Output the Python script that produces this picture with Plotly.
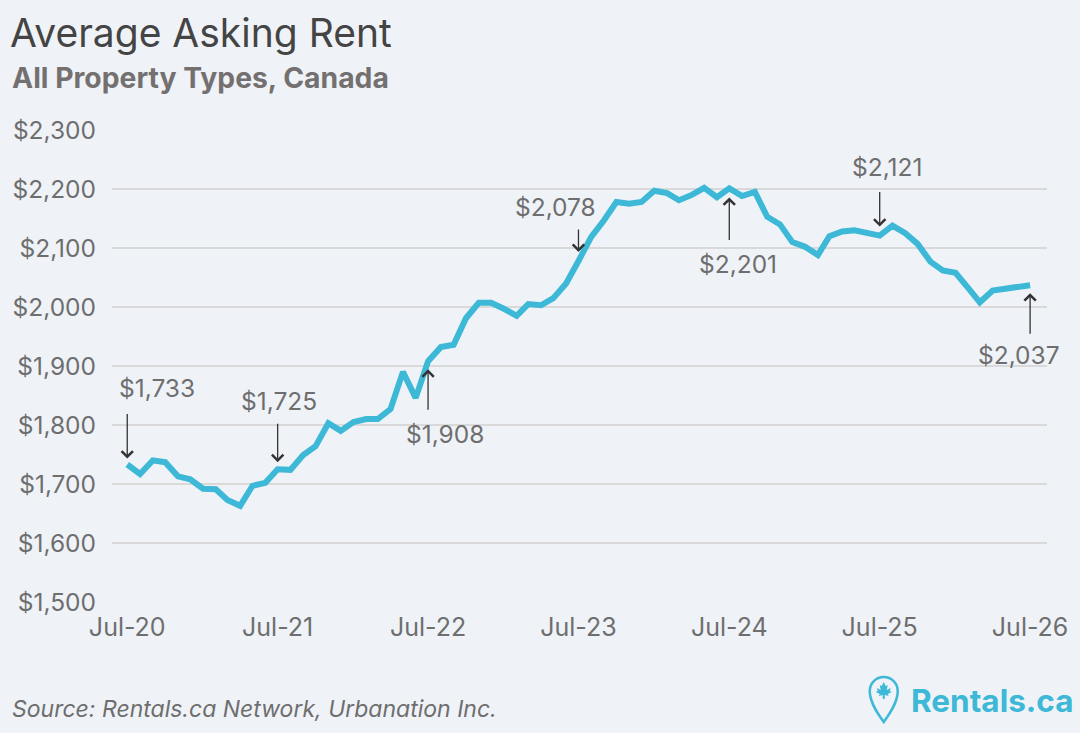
import pandas as pd
import plotly.graph_objects as go

# monthly average asking rent, Jul 2020 .. Jul 2026
months = pd.date_range("2020-07-01", "2026-07-01", freq="MS")
rent = [1733, 1717, 1740, 1737, 1713, 1708, 1692, 1691, 1673, 1663, 1697, 1702,
        1725, 1724, 1749, 1764, 1803, 1790, 1805, 1810, 1810, 1827, 1890, 1846,
        1908, 1932, 1936, 1981, 2007, 2007, 1997, 1985, 2005, 2003, 2015, 2040,
        2078, 2119, 2147, 2178, 2175, 2178, 2197, 2193, 2181, 2190, 2202, 2186,
        2201, 2188, 2195, 2153, 2140, 2110, 2102, 2088, 2120, 2128, 2130, 2126,
        2121, 2138, 2125, 2107, 2077, 2062, 2058, 2032, 2008, 2028, 2031, 2034,
        2037]

# the July points that get a callout
callout_dates = ["2020-07-01", "2021-07-01", "2022-07-01", "2023-07-01",
                 "2024-07-01", "2025-07-01", "2026-07-01"]
callout_vals = [1733, 1725, 1908, 2078, 2201, 2121, 2037]

tick_dates = pd.date_range("2020-07-01", "2026-07-01", freq="12MS")

W, H = 1080, 733
L, R, T, B = 105, 30, 130, 131
BG = "#eff3f8"
CYAN = "#3db8d6"
GREY = "#6e6e6e"
FONT = "Inter"


def px_x(p):  # pixel -> paper x
    return (p - L) / (W - L - R)


def px_y(p):  # pixel -> paper y
    return (H - B - p) / (H - T - B)


fig = go.Figure()
fig.add_trace(go.Scatter(x=months, y=rent, mode="lines",
                         line=dict(color=CYAN, width=6), hoverinfo="skip"))

# (arrow tail dy, standoff, label xshift, label yshift)
layout_spec = [(-52, 6, 30, 77), (-47, 7, 1, 68), (50, 8, 17, -73),
               (-33, 9, -23, 54), (53, 9, 9, -76), (-45, 9, 7, 69),
               (50, 8, -11, -70)]

for d, v, (ay, so, xs, ys) in zip(callout_dates, callout_vals, layout_spec):
    fig.add_annotation(x=d, y=v, text="", showarrow=True, ax=0, ay=ay,
                       axref="pixel", ayref="pixel", arrowhead=4,
                       arrowsize=1.7, arrowwidth=1.3, arrowcolor="#333333",
                       standoff=so)
    fig.add_annotation(x=d, y=v, text=f"${v:,}", showarrow=False,
                       xshift=xs, yshift=ys,
                       font=dict(family=FONT, size=24.5, color=GREY))

fig.add_annotation(xref="paper", yref="paper", x=px_x(2), y=px_y(78),
                   xanchor="left", yanchor="middle", showarrow=False,
                   text="<b>All Property Types, Canada</b>",
                   font=dict(family=FONT, size=28.3, color="#747070"))
fig.add_annotation(xref="paper", yref="paper", x=px_x(2), y=px_y(709),
                   xanchor="left", yanchor="middle", showarrow=False,
                   text="Source: Rentals.ca Network, Urbanation Inc.",
                   font=dict(family=FONT, size=23, color=GREY, style="italic"))
fig.add_annotation(xref="paper", yref="paper", x=px_x(911), y=px_y(700),
                   xanchor="left", yanchor="middle", showarrow=False,
                   text="<b>Rentals.ca</b>",
                   font=dict(family=FONT, size=31.5, color=CYAN))

# logo pin + leaf
pin = ("M 0,-31 C -5,-24 -14,-12 -14,0 C -14,7.7 -7.7,14 0,14 "
       "C 7.7,14 14,7.7 14,0 C 14,-12 5,-24 0,-31 Z")
leaf = ("M 0,9 L 2,5 L 4,6 L 3,1 L 7,3 L 6,0 L 8,-1 L 4,-3 L 5,-5 L 1,-4 "
        "L 1,-8 L -1,-8 L -1,-4 L -5,-5 L -4,-3 L -8,-1 L -6,0 L -7,3 "
        "L -3,1 L -4,6 L -2,5 Z")
fig.add_shape(type="path", xref="paper", yref="paper", xsizemode="pixel",
              ysizemode="pixel", xanchor=px_x(885), yanchor=px_y(691),
              path=pin, line=dict(color=CYAN, width=2.5),
              fillcolor="rgba(0,0,0,0)")
fig.add_shape(type="path", xref="paper", yref="paper", xsizemode="pixel",
              ysizemode="pixel", xanchor=px_x(885), yanchor=px_y(691),
              path=leaf, line=dict(width=0), fillcolor=CYAN)

fig.update_layout(
    width=W, height=H,
    margin=dict(l=L, r=R, t=T, b=B),
    paper_bgcolor=BG, plot_bgcolor=BG,
    showlegend=False,
    title=dict(text="Average Asking Rent", x=10 / W, xanchor="left",
               y=1 - 33 / H, yanchor="middle",
               font=dict(family=FONT, size=39, color="#444444")),
    xaxis=dict(type="date", range=["2020-05-25", "2026-08-11"],
               tickvals=tick_dates, tickformat="%b-%y", showgrid=False,
               zeroline=False, showline=False, ticks="",
               ticklabelstandoff=8,
               tickfont=dict(family=FONT, size=25, color=GREY)),
    yaxis=dict(range=[1500, 2300], dtick=100, tickprefix="$",
               tickformat=",", showgrid=True, gridcolor="#d9d9d9",
               gridwidth=1.5, zeroline=False, showline=False, ticks="",
               ticklabelstandoff=15,
               tickfont=dict(family=FONT, size=24.5, color=GREY)),
)

# drop the default page margin so the figure sits at the window corner
fig.write_html("out.html", config={"displayModeBar": False},
               post_script="document.body.style.margin='0';"
                           "document.body.style.background='#eff3f8';")
